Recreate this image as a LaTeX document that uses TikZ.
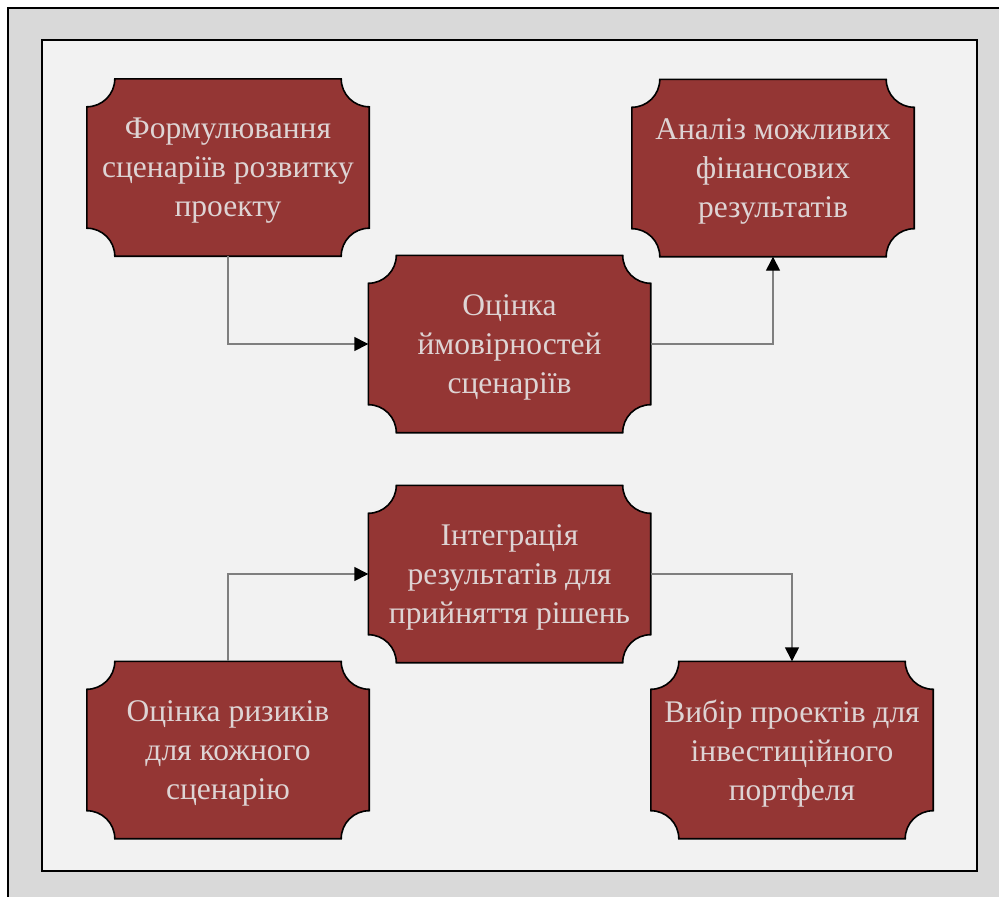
\documentclass[tikz,border=0pt]{standalone}
\usepackage{fontspec}
\setmainfont{Liberation Serif}
\usetikzlibrary{arrows.meta}

\definecolor{outerbg}{HTML}{D9D9D9}
\definecolor{innerbg}{HTML}{F2F2F2}
\definecolor{plaquered}{HTML}{943634}
\definecolor{plaquetext}{RGB}{222,212,212}
\definecolor{linkgray}{HTML}{7F7F7F}

\pgfdeclarelayer{panel}
\pgfdeclarelayer{frame}
\pgfsetlayers{panel,frame,main}

\tikzset{
  stage/.style={minimum width=282pt, minimum height=177pt, inner sep=0pt},
  stagetext/.style={inner sep=0pt, align=center, text=plaquetext,
    font=\fontsize{31.5}{39}\selectfont},
  plaqueline/.style={draw=black, line width=1.6pt, fill=plaquered},
  link/.style={draw=linkgray, line width=1.4pt,
    -{Triangle[length=14pt,width=14pt,color=black]}},
}

% rectangle with concave quarter-circle corners around a node
\newcommand{\plaqueframe}[1]{%
  \begin{pgfonlayer}{frame}
  \path[plaqueline]
    ([xshift=28pt]#1.north west) -- ([xshift=-28pt]#1.north east)
    arc[start angle=180, end angle=270, radius=28pt]
    -- ([yshift=28pt]#1.south east)
    arc[start angle=90, end angle=180, radius=28pt]
    -- ([xshift=28pt]#1.south west)
    arc[start angle=0, end angle=90, radius=28pt]
    -- ([yshift=-28pt]#1.north west)
    arc[start angle=270, end angle=360, radius=28pt]
    -- cycle;
  \end{pgfonlayer}}

\begin{document}
\begin{tikzpicture}[x=1pt, y=-1pt]
  \useasboundingbox (0,0) rectangle (999,897);

  \begin{pgfonlayer}{panel}
    \path[fill=outerbg, draw=black, line width=1.4pt] (8,8) rectangle (1010,910);
    \path[fill=innerbg, draw=black, line width=1.5pt] (42,40) rectangle (977,871);
  \end{pgfonlayer}

  % plaque holders
  \node[stage] (scen)  at (228,167.5) {};
  \node[stage] (fin)   at (773,168)   {};
  \node[stage] (prob)  at (509.5,344) {};
  \node[stage] (integ) at (509.5,574) {};
  \node[stage] (risk)  at (228,750)   {};
  \node[stage] (port)  at (792,750)   {};

  \plaqueframe{scen}
  \plaqueframe{fin}
  \plaqueframe{prob}
  \plaqueframe{integ}
  \plaqueframe{risk}
  \plaqueframe{port}

  % captions, set a little below centre
  \node[stagetext] (scen-t)  at ([yshift=-3.5pt]scen.center)  {Формулювання\\сценаріїв розвитку\\проекту};
  \node[stagetext] (fin-t)   at ([yshift=-3.5pt]fin.center)   {Аналіз можливих\\фінансових\\результатів};
  \node[stagetext] (prob-t)  at ([yshift=-3.5pt]prob.center)  {Оцінка\\ймовірностей\\сценаріїв};
  \node[stagetext] (integ-t) at ([yshift=-3.5pt]integ.center) {Інтеграція\\результатів для\\прийняття рішень};
  \node[stagetext] (risk-t)  at ([yshift=-3.5pt]risk.center)  {Оцінка ризиків\\для кожного\\сценарію};
  \node[stagetext] (port-t)  at ([yshift=-3.5pt]port.center)  {Вибір проектів для\\інвестиційного\\портфеля};

  \draw[link] (scen.south) |- (prob.west);
  \draw[link] (prob.east) -| (fin.south);
  \draw[link] (risk.north) |- (integ.west);
  \draw[link] (integ.east) -| (port.north);
\end{tikzpicture}
\end{document}
